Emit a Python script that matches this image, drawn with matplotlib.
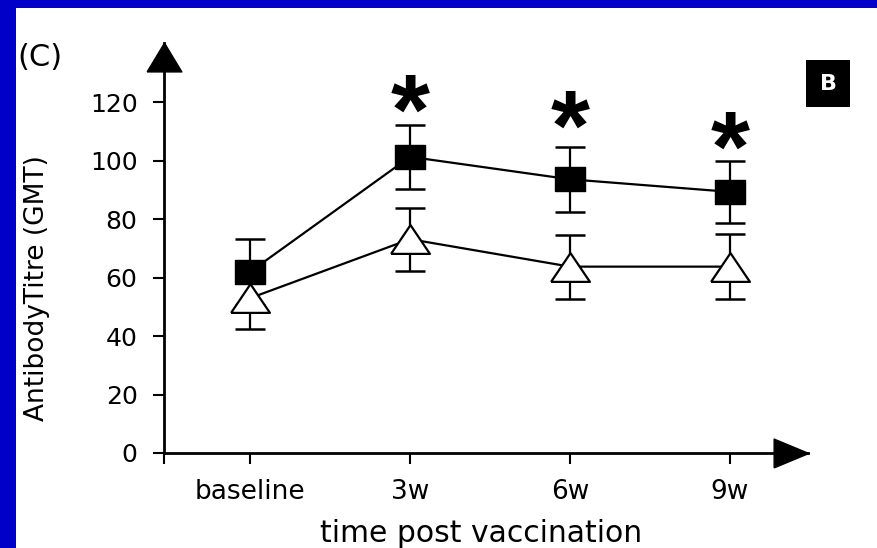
import numpy as np
import matplotlib.pyplot as plt
from matplotlib.patches import Rectangle

timepoints = ['baseline', '3w', '6w', '9w']

# filled squares
sq_mean = [62.0, 101.4, 93.7, 89.4]
sq_err = [11.2, 11.0, 11.2, 10.5]

# open triangles
tri_mean = [53.0, 73.2, 63.8, 63.8]
tri_err = [10.5, 10.8, 11.0, 11.2]

# asterisks above 3w, 6w, 9w
star_x = [1, 2, 3]
star_y = [121.9, 116.6, 109.4]

yticks = [0, 20, 40, 60, 80, 100, 120]

W, H = 877, 548
fig = plt.figure(figsize=(W / 100, H / 100), dpi=100, facecolor='#0000c8')
fig.patches.append(Rectangle((16 / W, 0), 1 - 16 / W, 1 - 8 / H, transform=fig.transFigure,
                             facecolor='white', edgecolor='none', zorder=-1))

ax = fig.add_axes([164 / W, (H - 453) / H, (808 - 164) / W, (453 - 43) / H])
ax.set_facecolor('none')

x = np.arange(len(timepoints))
x0, x1 = (164 - 250) / 160, (808 - 250) / 160
ax.set_xlim(x0, x1)
ax.set_ylim(0, (453 - 43) / 2.921)

square = [(-1, -0.8), (1, -0.8), (1, 0.8), (-1, 0.8), (-1, -0.8)]
tri = [(-1, -0.74), (1, -0.74), (0, 0.74), (-1, -0.74)]

ax.errorbar(x, sq_mean, yerr=sq_err, fmt='none', ecolor='black', elinewidth=1.6,
            capsize=10.5, capthick=1.8, zorder=1)
ax.errorbar(x, tri_mean, yerr=tri_err, fmt='none', ecolor='black', elinewidth=1.6,
            capsize=10.5, capthick=1.8, zorder=1)
ax.plot(x, tri_mean, color='black', lw=1.6, marker=tri, ms=28, mfc='white',
        mec='black', mew=1.6, zorder=3)
ax.plot(x, sq_mean, color='black', lw=1.6, marker=square, ms=21, mfc='black',
        mec='black', mew=1, zorder=4)

# the glyph sits high in its text box, so shift the box down
for sx, sy in zip(star_x, star_y):
    ax.annotate('*', (sx, sy), xytext=(0, -15), textcoords='offset points',
                ha='center', va='center', fontsize=72, fontweight='bold',
                family='Liberation Sans')

for s in ['top', 'right']:
    ax.spines[s].set_visible(False)
for s in ['left', 'bottom']:
    ax.spines[s].set_linewidth(2)

# arrow heads at the axis ends
ax.plot([0], [(453 - 57.5) / 410], marker=[(-1, -0.83), (1, -0.83), (0, 0.83), (-1, -0.83)],
        ms=25, color='black', transform=ax.transAxes, clip_on=False)
ax.plot([(790.5 - 164) / 644], [0], marker=[(-1, -0.83), (-1, 0.83), (1, 0), (-1, -0.83)],
        ms=25, color='black', transform=ax.transAxes, clip_on=False)

ax.set_xticks(x, timepoints)
ax.set_xticks([x0], minor=True)
ax.set_yticks(yticks)
ax.tick_params(axis='both', which='both', direction='out', length=8, width=1.5,
               labelsize=18, pad=11)
ax.tick_params(axis='x', labelsize=19)

ax.set_ylabel('AntibodyTitre (GMT)', fontsize=19, va='center', ha='center')
ax.yaxis.set_label_coords((37.5 - 164) / 644, (453 - 288.5) / 410)
ax.set_xlabel('time post vaccination', fontsize=21.5, va='center', ha='center')
ax.xaxis.set_label_coords((481 - 164) / 644, (453 - 533) / 410)

fig.text(17 / W, 1 - 57 / H, '(C)', fontsize=22, ha='left', va='center')
fig.text(828 / W, 1 - 83.5 / H, 'B', fontsize=16, fontweight='bold', color='white',
         ha='center', va='center',
         bbox=dict(boxstyle='square,pad=0.6', facecolor='black', edgecolor='none'))

fig.savefig('out.png', dpi=100, facecolor=fig.get_facecolor())
